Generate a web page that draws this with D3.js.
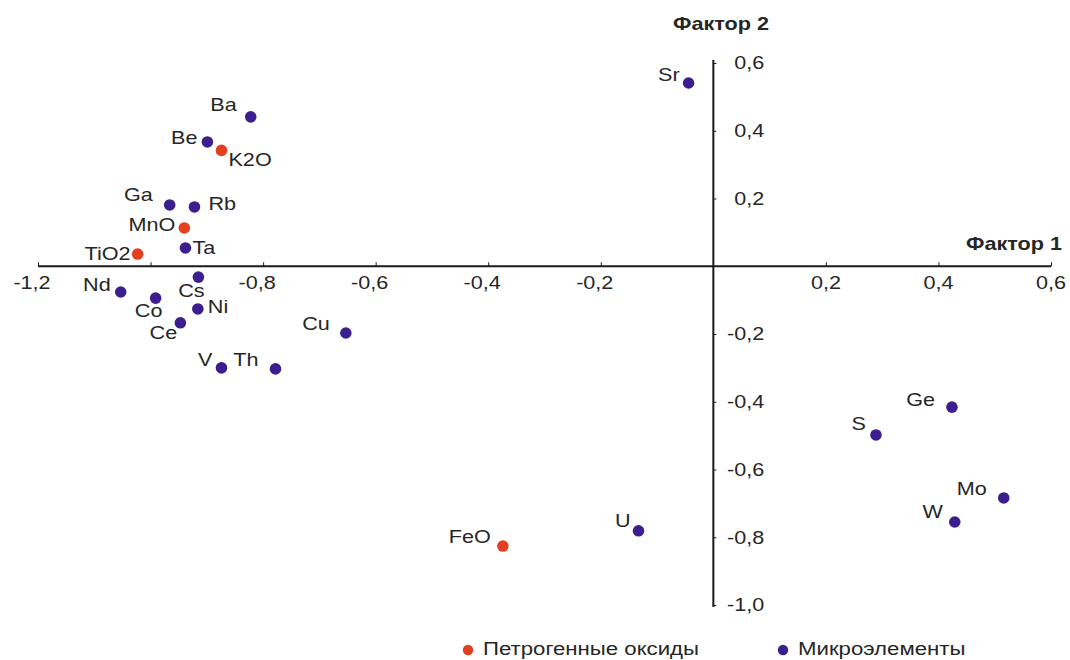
<!DOCTYPE html>
<html>
<head>
<meta charset="utf-8">
<script src="https://cdn.jsdelivr.net/npm/d3@7/dist/d3.min.js"></script>
<style>
  body { margin: 0; background: #fff; }
  svg { display: block; font-family: "Liberation Sans", Arial, sans-serif; }
</style>
</head>
<body>
<svg width="1070" height="660"></svg>
<script>
// данные: нагрузки факторов
const oxideNames = ["K2O", "MnO", "TiO2", "FeO"];
const oxideF1 = [-0.874, -0.940, -1.023, -0.374];
const oxideF2 = [0.342, 0.113, 0.036, -0.826];

const microNames = ["Sr", "Ba", "Be", "Ga", "Rb", "Ta", "Cs", "Nd", "Co", "Ni", "Ce", "V", "Th", "Cu", "U", "S", "Ge", "Mo", "W"];
const microF1 = [-0.044, -0.822, -0.899, -0.966, -0.922, -0.938, -0.915, -1.053, -0.991, -0.916, -0.947, -0.874, -0.778, -0.653, -0.133, 0.289, 0.424, 0.516, 0.429];
const microF2 = [0.541, 0.441, 0.367, 0.181, 0.175, 0.054, -0.032, -0.076, -0.094, -0.126, -0.167, -0.300, -0.303, -0.197, -0.781, -0.498, -0.416, -0.684, -0.755];

const xTicks = [-1.2, -1.0, -0.8, -0.6, -0.4, -0.2, 0.2, 0.4, 0.6];
const yTicks = [0.6, 0.4, 0.2, -0.2, -0.4, -0.6, -0.8, -1.0];
const xTickLabels = ["-1,2", "", "-0,8", "-0,6", "-0,4", "-0,2", "0,2", "0,4", "0,6"];
const yTickLabels = ["0,6", "0,4", "0,2", "-0,2", "-0,4", "-0,6", "-0,8", "-1,0"];

const seriesNames = ["Петрогенные оксиды", "Микроэлементы"];
const axisTitles = ["Фактор 1", "Фактор 2"];

// где подписи стоят относительно точки
const labelPos = {
    Sr: ["end", -9, -8], Ba: ["end", -14, -12], Be: ["end", -10, -4], K2O: ["start", 7, 9],
    Ga: ["end", -17, -10], Rb: ["start", 14, -3], MnO: ["end", -9, -3], Ta: ["start", 7, 0],
    TiO2: ["end", -7, 0], Cs: ["middle", -7, 14], Nd: ["end", -10, -7], Co: ["middle", -7, 13],
    Ni: ["start", 10, -2], Ce: ["middle", -17, 10], V: ["end", -9, -8], Th: ["end", -17, -9],
    Cu: ["end", -16, -9], FeO: ["end", -12, -9], U: ["end", -8, -10], S: ["end", -10, -11],
    Ge: ["end", -17, -8], Mo: ["end", -17, -9], W: ["end", -12, -10]
};

const red = "#e4401f";
const purple = "#3b1f8f";
const textColor = "#262626";
const sx = 1.2;

const svg = d3.select("svg");

const x = d3.scaleLinear().domain([-1.2, 0.6]).range([38, 1051]);
const y = d3.scaleLinear().domain([-1.0, 0.6]).range([605, 63]);

// растянутый текст
const stretchText = (g, px, py, str, anchor, size, weight) => {
    g.append("g")
        .attr("transform", "translate(" + px + "," + py + ")")
        .append("text")
        .attr("transform", "scale(" + sx + ",1)")
        .attr("text-anchor", anchor)
        .attr("dominant-baseline", "central")
        .attr("font-size", size)
        .attr("font-weight", weight || "normal")
        .attr("fill", textColor)
        .text(str);
};

// оси
const xAxis = svg.append("g").attr("transform", "translate(0," + y(0) + ")")
    .call(d3.axisTop(x).tickValues(xTicks).tickSize(4).tickFormat(""));
xAxis.select(".domain").attr("d", "M38,0H1051").attr("stroke", "#1a1a1a").attr("stroke-width", 2);
xAxis.selectAll(".tick line").attr("stroke", "#1a1a1a");

const yAxis = svg.append("g").attr("transform", "translate(" + x(0) + ",0)")
    .call(d3.axisRight(y).tickValues(yTicks).tickSize(3).tickFormat(""));
yAxis.select(".domain").attr("d", "M0,60V607").attr("stroke", "#1a1a1a").attr("stroke-width", 2);
yAxis.selectAll(".tick line").attr("stroke", "#1a1a1a");

const labels = svg.append("g");
xTicks.forEach((t, i) => {
    stretchText(labels, x(t) + (t < 0 ? -6 : 0), y(0) + 16, xTickLabels[i], "middle", 18);
});
yTicks.forEach((t, i) => {
    stretchText(labels, x(0) + 51, y(t), yTickLabels[i], "end", 18);
});

stretchText(labels, 1062, 244, axisTitles[0], "end", 18, "bold");
stretchText(labels, 721, 24, axisTitles[1], "middle", 18, "bold");

// точки
const drawSeries = (names, f1, f2, color) => {
    const pts = names.map((n, i) => ({name: n, f1: f1[i], f2: f2[i]}));
    const g = svg.append("g");
    g.selectAll("circle")
        .data(pts)
        .enter().append("circle")
        .attr("cx", d => x(d.f1))
        .attr("cy", d => y(d.f2))
        .attr("r", 5.8)
        .attr("fill", color);
    pts.forEach(d => {
        const p = labelPos[d.name];
        stretchText(g, x(d.f1) + p[1], y(d.f2) + p[2], d.name, p[0], 18);
    });
};

drawSeries(microNames, microF1, microF2, purple);
drawSeries(oxideNames, oxideF1, oxideF2, red);

// легенда
const legend = svg.append("g");
[red, purple].forEach((c, i) => {
    const lx = i === 0 ? 468 : 783;
    legend.append("circle").attr("cx", lx).attr("cy", 650).attr("r", 5.2).attr("fill", c);
    stretchText(legend, lx + 15, 649, seriesNames[i], "start", 18.5);
});
</script>
</body>
</html>
